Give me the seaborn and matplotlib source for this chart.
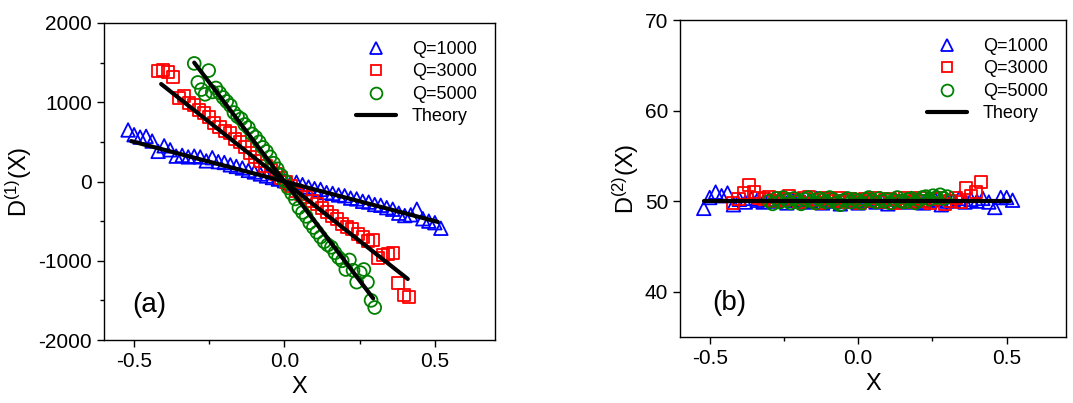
import numpy as np
import pandas as pd
import matplotlib
matplotlib.use("Agg")
import matplotlib.pyplot as plt
from matplotlib.ticker import MultipleLocator, FormatStrFormatter
from matplotlib.lines import Line2D
import seaborn as sns

# ---------------- data ----------------
x_q1000 = [-0.52, -0.50, -0.48, -0.46, -0.44, -0.42, -0.40, -0.38, -0.36, -0.34,
           -0.32, -0.30, -0.28, -0.26, -0.24, -0.22, -0.20, -0.18, -0.16, -0.14,
           -0.12, -0.10, -0.08, -0.06, -0.04, -0.02, 0.00, 0.02, 0.04, 0.06,
           0.08, 0.10, 0.12, 0.14, 0.16, 0.18, 0.20, 0.22, 0.24, 0.26,
           0.28, 0.30, 0.32, 0.34, 0.36, 0.38, 0.40, 0.42, 0.44, 0.46,
           0.48, 0.50, 0.52]
d1_q1000 = [650, 590, 560, 570, 510, 380, 450, 400, 320, 330,
            310, 320, 310, 260, 300, 250, 240, 210, 190, 170,
            140, 120, 95, 70, 50, 30, 10, -20, -10, -40,
            -70, -90, -100, -140, -150, -170, -180, -210, -220, -250,
            -260, -290, -300, -330, -350, -400, -430, -420, -350, -470,
            -500, -520, -590]
d2_q1000 = [49.2, 50.4, 51.0, 50.6, 50.9, 49.6, 50.2, 49.9, 50.3, 50.1,
            49.9, 50.2, 50.0, 50.3, 49.8, 50.1, 50.2, 49.9, 50.0, 50.3,
            49.8, 50.1, 50.0, 49.7, 50.2, 50.0, 49.8, 50.1, 50.3, 49.9,
            50.0, 49.7, 50.2, 50.0, 49.9, 50.3, 50.0, 49.8, 50.1, 50.2,
            49.6, 50.0, 50.1, 50.3, 49.9, 50.2, 50.0, 50.3, 49.9, 49.3,
            50.4, 50.4, 50.1]

x_q3000 = [-0.420, -0.403, -0.386, -0.369, -0.352, -0.335, -0.318, -0.301, -0.284, -0.267,
           -0.250, -0.233, -0.216, -0.199, -0.182, -0.165, -0.148, -0.131, -0.114, -0.097,
           -0.080, -0.063, -0.046, -0.029, -0.012, 0.005, 0.022, 0.039, 0.056, 0.073,
           0.090, 0.107, 0.124, 0.141, 0.158, 0.175, 0.192, 0.209, 0.226, 0.243,
           0.260, 0.277, 0.294, 0.311, 0.328, 0.345, 0.362, 0.379, 0.396, 0.413]
d1_q3000 = [1400, 1410, 1380, 1320, 1050, 1080, 990, 960, 900, 870,
            820, 740, 690, 640, 610, 540, 500, 430, 360, 310,
            260, 200, 150, 90, 40, -10, -60, -120, -160, -200,
            -250, -290, -340, -390, -430, -470, -540, -580, -600, -660,
            -700, -750, -740, -960, -930, -920, -900, -1280, -1430, -1460]
d2_q3000 = [49.8, 50.2, 50.9, 51.8, 51.0, 50.4, 50.2, 50.5, 50.0, 50.3,
            50.1, 50.6, 50.2, 49.9, 50.3, 50.5, 50.1, 49.8, 50.4, 50.2,
            50.0, 50.3, 49.9, 50.2, 50.1, 49.8, 50.2, 50.0, 50.3, 49.9,
            50.1, 50.2, 49.8, 50.0, 50.3, 49.9, 50.1, 50.4, 50.0, 49.8,
            50.2, 50.3, 49.7, 50.0, 50.4, 49.9, 51.5, 50.6, 51.0, 52.1]

x_q5000 = [-0.300, -0.288, -0.276, -0.264, -0.252, -0.240, -0.228, -0.216, -0.204, -0.192,
           -0.180, -0.168, -0.156, -0.144, -0.132, -0.120, -0.108, -0.096, -0.084, -0.072,
           -0.060, -0.048, -0.036, -0.024, -0.012, 0.000, 0.012, 0.024, 0.036, 0.048,
           0.060, 0.072, 0.084, 0.096, 0.108, 0.120, 0.132, 0.144, 0.156, 0.168,
           0.180, 0.192, 0.204, 0.216, 0.228, 0.240, 0.252, 0.264, 0.276, 0.288, 0.300]
d1_q5000 = [1490, 1250, 1160, 1100, 1400, 1130, 1180, 1120, 1060, 1010,
            960, 870, 820, 790, 720, 680, 600, 560, 500, 430,
            380, 310, 230, 160, 80, 10, -80, -150, -220, -330,
            -390, -440, -520, -580, -640, -700, -760, -800, -830, -900,
            -960, -1000, -1110, -990, -1120, -1270, -1150, -1110, -1270, -1500, -1590]
d2_q5000 = [50.0, 49.7, 50.3, 49.9, 50.4, 50.1, 49.8, 50.3, 50.0, 49.7,
            50.2, 50.4, 50.0, 49.8, 50.3, 50.1, 49.9, 50.4, 50.2, 49.8,
            49.6, 50.1, 50.3, 49.9, 50.2, 50.0, 49.8, 50.2, 50.4, 50.1,
            49.9, 50.3, 50.0, 50.2, 49.8, 50.1, 50.4, 50.0, 49.9, 50.2,
            50.3, 49.8, 50.1, 50.4, 50.5, 50.2, 50.6, 50.4, 50.7, 50.3, 50.5]

# theory line end points
th1_x_q1000 = [-0.51, 0.51]
th1_y_q1000 = [510, -510]
th1_x_q3000 = [-0.41, 0.41]
th1_y_q3000 = [1230, -1230]
th1_x_q5000 = [-0.30, 0.295]
th1_y_q5000 = [1500, -1475]
th2_x = [-0.52, 0.51]
th2_y = [50, 50]

labels = ["Q=1000", "Q=3000", "Q=5000"]
colors = ["#0000ff", "#ff0000", "#008000"]
markers = ["^", "s", "o"]
sizes = [95, 75, 85]

# ---------------- style ----------------
sns.set_style("ticks")
plt.rcParams["font.family"] = ["Liberation Sans", "DejaVu Sans"]
plt.rcParams["mathtext.default"] = "regular"
plt.rcParams["xtick.direction"] = "out"
plt.rcParams["ytick.direction"] = "out"
plt.rcParams["axes.unicode_minus"] = False
for k in ["text.color", "axes.labelcolor", "xtick.color", "ytick.color", "axes.edgecolor"]:
    plt.rcParams[k] = "black"

fig = plt.figure(figsize=(10.73, 4.03), dpi=100)
ax1 = fig.add_axes([104/1073, 1-340/403, 391/1073, 317/403])
ax2 = fig.add_axes([680/1073, 1-337/403, 386/1073, 317/403])

xs = [x_q1000, x_q3000, x_q5000]
d1s = [d1_q1000, d1_q3000, d1_q5000]
d2s = [d2_q1000, d2_q3000, d2_q5000]

for ax, ds in [(ax1, d1s), (ax2, d2s)]:
    for x, y, lab, c, m, s in zip(xs, ds, labels, colors, markers, sizes):
        df = pd.DataFrame({"x": x, "y": y})
        sns.scatterplot(data=df, x="x", y="y", ax=ax, marker=m, s=s,
                        facecolors="none", edgecolors=c, linewidths=1.3,
                        label=lab, legend=False, zorder=2)

for tx, ty in [(th1_x_q1000, th1_y_q1000), (th1_x_q3000, th1_y_q3000),
               (th1_x_q5000, th1_y_q5000)]:
    sns.lineplot(x=tx, y=ty, ax=ax1, color="black", lw=3, zorder=3)
sns.lineplot(x=th2_x, y=th2_y, ax=ax2, color="black", lw=3, zorder=3)

handles = [Line2D([], [], ls="none", marker=m, ms=ms, mfc="none", mec=c, mew=1.3)
           for m, c, ms in zip(markers, colors, [9, 7.5, 8.5])]
handles.append(Line2D([], [], color="black", lw=3))
leg_labels = labels + ["Theory"]

for ax, yl, ylab, panel, ploc in [
        (ax1, (-2000, 2000), "D$^{(1)}$(X)", "(a)", (0.072, 0.07)),
        (ax2, (35, 70), "D$^{(2)}$(X)", "(b)", (0.083, 0.065))]:
    ax.set_xlim(-0.6, 0.7)
    ax.set_ylim(*yl)
    ax.xaxis.set_major_locator(MultipleLocator(0.5))
    ax.xaxis.set_minor_locator(MultipleLocator(0.25))
    ax.xaxis.set_major_formatter(FormatStrFormatter("%.1f"))
    ax.set_xlabel("X", fontsize=17, labelpad=4)
    ax.set_ylabel(ylab, fontsize=17, labelpad=3)
    ax.tick_params(axis="both", which="major", labelsize=15, length=5, width=1,
                   color="black", labelcolor="black")
    ax.tick_params(axis="both", which="minor", length=3, width=1, color="black")
    for sp in ax.spines.values():
        sp.set_visible(True)
        sp.set_color("black")
        sp.set_linewidth(1.0)
    ax.text(ploc[0], ploc[1], panel, transform=ax.transAxes, fontsize=20,
            ha="left", va="bottom", color="black")
    ax.legend(handles, leg_labels, loc="upper right", frameon=False, fontsize=13,
              handlelength=2.2, handletextpad=0.9, labelspacing=0.3,
              borderaxespad=0.6, labelcolor="black")

ax1.yaxis.set_major_locator(MultipleLocator(1000))
ax1.yaxis.set_minor_locator(MultipleLocator(500))
ax2.set_yticks([40, 50, 60, 70])

fig.savefig("out.png", dpi=100)
